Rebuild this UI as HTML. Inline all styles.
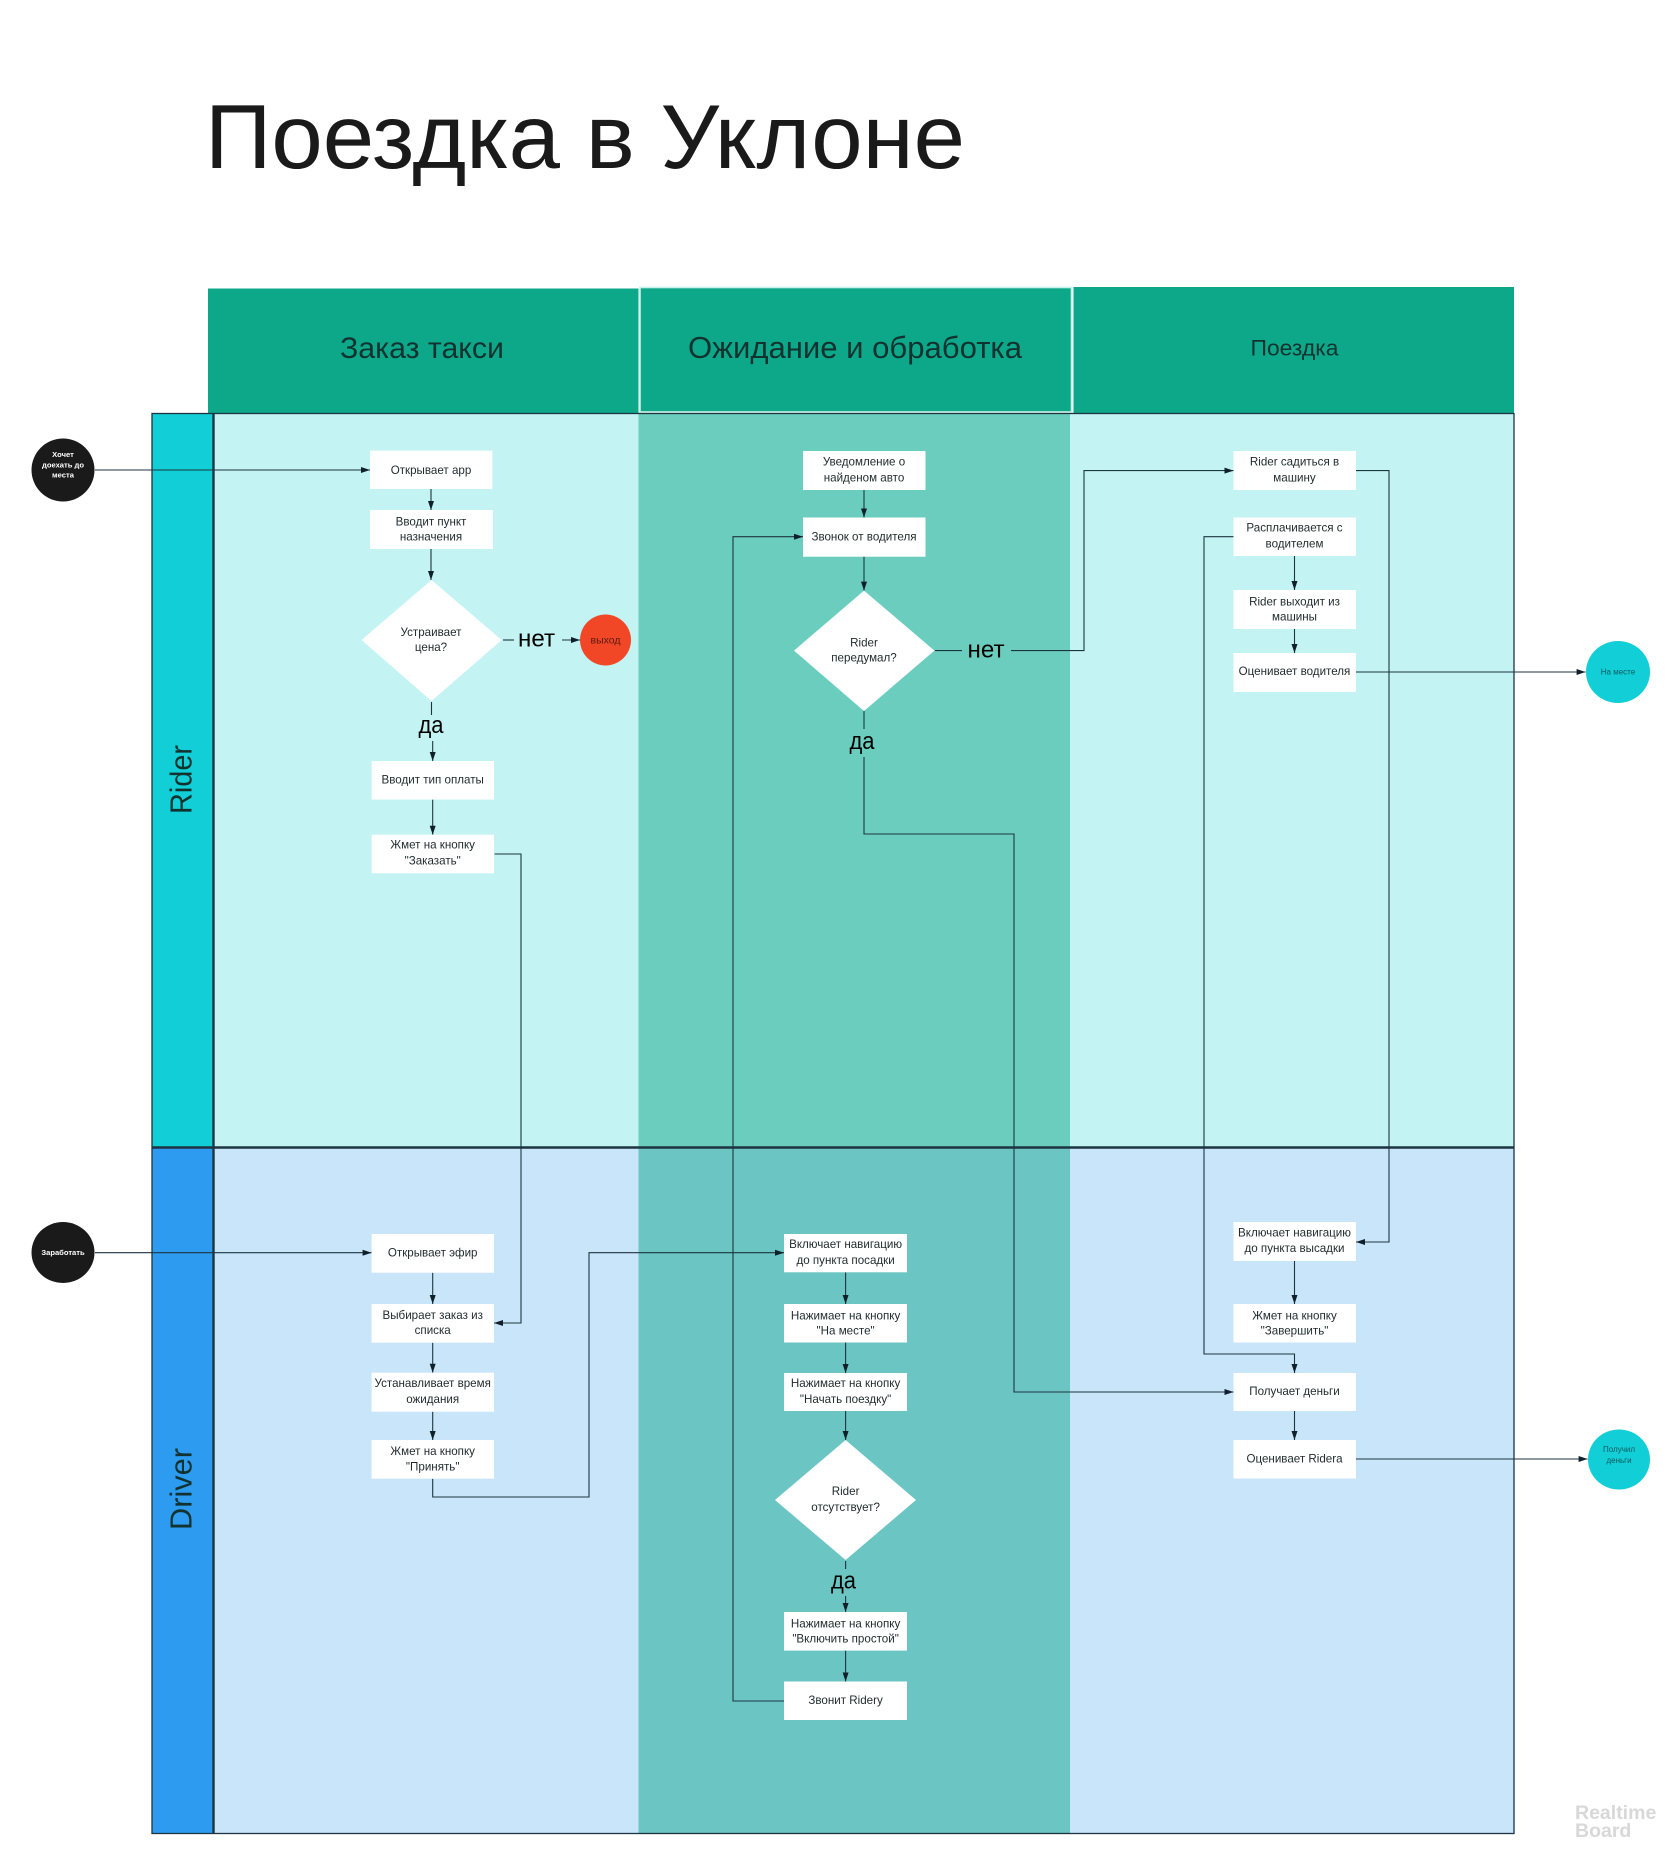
<!DOCTYPE html>
<html lang="ru">
<head>
<meta charset="utf-8">
<title>Поездка в Уклоне</title>
<style>
html,body{margin:0;padding:0;background:#fff;width:1680px;height:1864px;overflow:hidden}
svg{display:block}
text{font-family:"Liberation Sans","DejaVu Sans",sans-serif;text-anchor:middle;fill:#1f2a2a}
.b{fill:#fff}
.t{font-size:11.6px}
.c{fill:none;stroke:#1d3540;stroke-width:1.1}
.a{marker-end:url(#ah)}
.big{font-size:24px;fill:#000}
</style>
</head>
<body>
<svg width="1680" height="1864" viewBox="0 0 1680 1864" xmlns="http://www.w3.org/2000/svg">
<defs>
<marker id="ah" markerUnits="userSpaceOnUse" markerWidth="10" markerHeight="8" refX="9" refY="3" orient="auto">
<path d="M0,0 L9,3 L0,6 Z" fill="#10202a"/>
</marker>
</defs>

<text x="205" y="168" font-size="91" style="text-anchor:start;fill:#1a1a1a" textLength="760" lengthAdjust="spacingAndGlyphs">Поездка в Уклоне</text>

<!-- column headers -->
<rect x="208" y="288.5" width="430.5" height="125" fill="#0da88a"/>
<rect x="640" y="287.5" width="431.5" height="124.5" fill="#0da88a" stroke="#c9f0e8" stroke-width="1.6"/>
<rect x="1073.5" y="287" width="440.5" height="126" fill="#0da88a"/>
<text x="422" y="358" font-size="30" style="fill:#11322f" textLength="164" lengthAdjust="spacingAndGlyphs">Заказ такси</text>
<text x="855" y="358" font-size="31" style="fill:#11322f" textLength="334" lengthAdjust="spacingAndGlyphs">Ожидание и обработка</text>
<text x="1294.5" y="355.5" font-size="22" style="fill:#11322f" textLength="88" lengthAdjust="spacingAndGlyphs">Поездка</text>

<!-- lanes -->
<rect x="213" y="413" width="1301" height="734" fill="#c3f3f3"/>
<rect x="213" y="1147" width="1301" height="687" fill="#c9e5fa"/>
<rect x="638.5" y="413" width="431.5" height="734" fill="#6acdbe"/>
<rect x="638.5" y="1147" width="431.5" height="687" fill="#6bc5c3"/>
<rect x="152" y="413" width="61" height="734" fill="#12ced6"/>
<rect x="152" y="1147" width="61" height="687" fill="#2d9bf0"/>
<rect x="152" y="413.5" width="1362" height="1420" fill="none" stroke="#1d3540" stroke-width="1.3"/>
<path d="M213.5,413V1834" stroke="#1d3540" stroke-width="2.4" fill="none"/>
<path d="M152,1147.5H1514" stroke="#1d3540" stroke-width="2.6" fill="none"/>
<text transform="translate(191.5,814) rotate(-90)" font-size="31" style="text-anchor:start;fill:#11322f" textLength="69" lengthAdjust="spacingAndGlyphs">Rider</text>
<text transform="translate(191.5,1530) rotate(-90)" font-size="31" style="text-anchor:start;fill:#11322f" textLength="82" lengthAdjust="spacingAndGlyphs">Driver</text>

<!-- connectors -->
<path class="c a" d="M95,470H370"/>
<path class="c a" d="M431,489V510"/>
<path class="c a" d="M431,549V580"/>
<path class="c" d="M503,640H514"/>
<path class="c a" d="M562,640H580"/>
<path class="c" d="M431.5,702V715"/>
<path class="c a" d="M432.7,741V761"/>
<path class="c a" d="M432.7,799.6V834.7"/>
<path class="c a" d="M494.5,854H521V1323H494"/>
<path class="c a" d="M95,1252.7H371.6"/>
<path class="c a" d="M432.7,1272.7V1304"/>
<path class="c a" d="M432.7,1342.7V1372.7"/>
<path class="c a" d="M432.7,1411.7V1440"/>
<path class="c a" d="M432.7,1478.7V1497H589V1252.7H784"/>
<path class="c a" d="M864,490V517.5"/>
<path class="c a" d="M864,556.7V590.6"/>
<path class="c" d="M864,711V729"/>
<path class="c a" d="M864,757V834H1014V1392H1233.5"/>
<path class="c" d="M935,650.6H962"/>
<path class="c a" d="M1011,650.6H1084V470.6H1233.5"/>
<path class="c a" d="M784,1701H733V536.7H803"/>
<path class="c a" d="M845.6,1272.3V1304"/>
<path class="c a" d="M845.6,1342.5V1373"/>
<path class="c a" d="M845.6,1411V1440"/>
<path class="c" d="M845.6,1561V1569"/>
<path class="c a" d="M845.6,1596V1612"/>
<path class="c a" d="M845.6,1650.6V1681.5"/>
<path class="c a" d="M1356,470.6H1389V1242H1356"/>
<path class="c a" d="M1233.5,536.7H1204V1354H1294.5V1373"/>
<path class="c a" d="M1294.5,556V590"/>
<path class="c a" d="M1294.5,629V653"/>
<path class="c a" d="M1294.5,1261V1304"/>
<path class="c a" d="M1294.5,1411V1440"/>
<path class="c a" d="M1356,672H1585.6"/>
<path class="c a" d="M1356,1459H1587.6"/>

<!-- circles -->
<circle cx="63" cy="470" r="31.5" fill="#1a1a1a"/>
<ellipse cx="63" cy="1252.5" rx="31.5" ry="30.5" fill="#1a1a1a"/>
<circle cx="605.5" cy="640" r="25.5" fill="#f24726"/>
<ellipse cx="1618" cy="672" rx="32" ry="31" fill="#12ced6"/>
<ellipse cx="1619" cy="1459.5" rx="31" ry="30" fill="#12ced6"/>
<text x="63" y="457" font-size="7.6" font-weight="bold" style="fill:#fff">Хочет</text>
<text x="63" y="467.5" font-size="7.6" font-weight="bold" style="fill:#fff">доехать до</text>
<text x="63" y="477.5" font-size="7.6" font-weight="bold" style="fill:#fff">места</text>
<text x="63" y="1255" font-size="7.6" font-weight="bold" style="fill:#fff">Заработать</text>
<text x="605.5" y="643.5" font-size="10.5" style="fill:#5a1a10">выход</text>
<text x="1618" y="674.5" font-size="8" style="fill:#0c5a62">На месте</text>
<text x="1619" y="1452" font-size="8" style="fill:#0c5a62">Получил</text>
<text x="1619" y="1463" font-size="8" style="fill:#0c5a62">деньги</text>

<!-- column 1 -->
<rect class="b" x="370" y="450.6" width="122.4" height="38.4"/>
<text class="t" x="431" y="474">Открывает арр</text>
<rect class="b" x="370" y="510" width="123" height="39"/>
<text class="t" x="431" y="525.5">Вводит пункт</text>
<text class="t" x="431" y="540.5">назначения</text>
<polygon class="b" points="431.5,580 501.7,640 431.5,701 361.5,640"/>
<text class="t" x="431" y="636">Устраивает</text>
<text class="t" x="431" y="651">цена?</text>
<text class="big" x="536.5" y="646.5" textLength="37" lengthAdjust="spacingAndGlyphs">нет</text>
<text class="big" x="431" y="733" textLength="25" lengthAdjust="spacingAndGlyphs">да</text>
<rect class="b" x="371.6" y="761" width="122.4" height="38.6"/>
<text class="t" x="432.7" y="783.5">Вводит тип оплаты</text>
<rect class="b" x="371.6" y="834.7" width="122.4" height="38.6"/>
<text class="t" x="432.7" y="848.5">Жмет на кнопку</text>
<text class="t" x="432.7" y="864.5">"Заказать"</text>

<rect class="b" x="371.6" y="1234" width="122.4" height="38.7"/>
<text class="t" x="432.7" y="1256.5">Открывает эфир</text>
<rect class="b" x="371.6" y="1304" width="122.4" height="38.7"/>
<text class="t" x="432.7" y="1319">Выбирает  заказ из</text>
<text class="t" x="432.7" y="1334">списка</text>
<rect class="b" x="371.6" y="1372.7" width="122.4" height="39"/>
<text class="t" x="432.7" y="1387">Устанавливает время</text>
<text class="t" x="432.7" y="1403">ожидания</text>
<rect class="b" x="371.6" y="1440" width="122.4" height="38.7"/>
<text class="t" x="432.7" y="1455">Жмет на кнопку</text>
<text class="t" x="432.7" y="1470.5">"Принять"</text>

<!-- column 2 -->
<rect class="b" x="803" y="451" width="122.5" height="39"/>
<text class="t" x="864" y="465.5">Уведомление о</text>
<text class="t" x="864" y="481.5">найденом авто</text>
<rect class="b" x="803" y="517.5" width="122.5" height="39.2"/>
<text class="t" x="864" y="540.5">Звонок от водителя</text>
<polygon class="b" points="864,590.6 934.4,650.6 864,711 794,650.6"/>
<text class="t" x="864" y="646.5">Rider</text>
<text class="t" x="864" y="661.5">передумал?</text>
<text class="big" x="986" y="657.5" textLength="37" lengthAdjust="spacingAndGlyphs">нет</text>
<text class="big" x="862" y="749" textLength="25" lengthAdjust="spacingAndGlyphs">да</text>

<rect class="b" x="784" y="1234" width="123" height="38.3"/>
<text class="t" x="845.6" y="1248">Включает навигацию</text>
<text class="t" x="845.6" y="1264">до пункта посадки</text>
<rect class="b" x="784" y="1304" width="123" height="38.5"/>
<text class="t" x="845.6" y="1319.5">Нажимает на кнопку</text>
<text class="t" x="845.6" y="1334.5">"На месте"</text>
<rect class="b" x="784" y="1373" width="123" height="38"/>
<text class="t" x="845.6" y="1387">Нажимает на кнопку</text>
<text class="t" x="845.6" y="1403">"Начать поездку"</text>
<polygon class="b" points="845.6,1440 916,1500 845.6,1560 775,1500"/>
<text class="t" x="845.6" y="1495">Rider</text>
<text class="t" x="845.6" y="1511">отсутствует?</text>
<text class="big" x="843.5" y="1588.5" textLength="25" lengthAdjust="spacingAndGlyphs">да</text>
<rect class="b" x="784" y="1612" width="123" height="38.6"/>
<text class="t" x="845.6" y="1627.5">Нажимает на кнопку</text>
<text class="t" x="845.6" y="1642.5">"Включить простой"</text>
<rect class="b" x="784" y="1681.5" width="123" height="38.5"/>
<text class="t" x="845.6" y="1704">Звонит Ridery</text>

<!-- column 3 -->
<rect class="b" x="1233.5" y="451" width="122.5" height="39"/>
<text class="t" x="1294.5" y="465.5">Rider садиться в</text>
<text class="t" x="1294.5" y="481.5">машину</text>
<rect class="b" x="1233.5" y="517.5" width="122.5" height="38.5"/>
<text class="t" x="1294.5" y="531.5">Расплачивается с</text>
<text class="t" x="1294.5" y="547.5">водителем</text>
<rect class="b" x="1233.5" y="590" width="122.5" height="39"/>
<text class="t" x="1294.5" y="605.5">Rider выходит из</text>
<text class="t" x="1294.5" y="620.5">машины</text>
<rect class="b" x="1233.5" y="653" width="122.5" height="39"/>
<text class="t" x="1294.5" y="675">Оценивает водителя</text>

<rect class="b" x="1233.5" y="1222" width="122.5" height="39"/>
<text class="t" x="1294.5" y="1236.5">Включает навигацию</text>
<text class="t" x="1294.5" y="1252">до пункта высадки</text>
<rect class="b" x="1233.5" y="1304" width="122.5" height="38.5"/>
<text class="t" x="1294.5" y="1319.5">Жмет на кнопку</text>
<text class="t" x="1294.5" y="1334.5">"Завершить"</text>
<rect class="b" x="1233.5" y="1373" width="122.5" height="38"/>
<text class="t" x="1294.5" y="1395">Получает деньги</text>
<rect class="b" x="1233.5" y="1440" width="122.5" height="38.5"/>
<text class="t" x="1294.5" y="1462.5">Оценивает  Ridera</text>

<text x="1570" y="1819" font-size="19.5" font-weight="bold" style="text-anchor:start;fill:#d8d8d8" dx="5">Realtime</text>
<text x="1570" y="1837" font-size="19.5" font-weight="bold" style="text-anchor:start;fill:#d8d8d8" dx="5">Board</text>
</svg>
</body>
</html>
